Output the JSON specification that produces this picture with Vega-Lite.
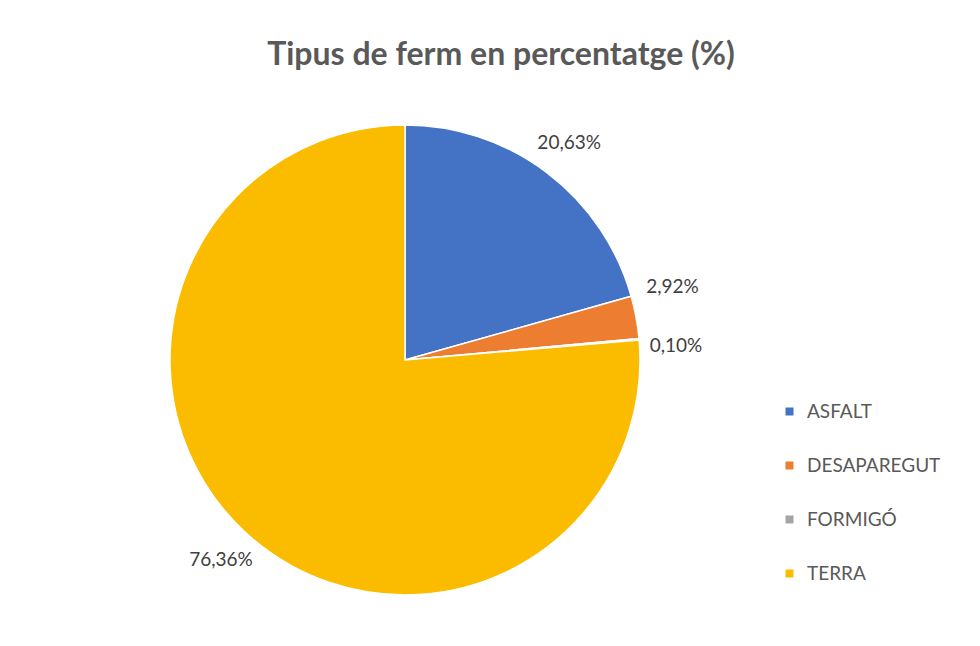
{
  "$schema": "https://vega.github.io/schema/vega-lite/v6.json",
  "width": 810,
  "height": 560,
  "autosize": "none",
  "padding": {"left": 0, "top": 80, "right": 170, "bottom": 6},
  "background": "white",
  "view": {"stroke": null},
  "title": {
    "text": "Tipus de ferm en percentatge (%)",
    "font": "Lato",
    "fontSize": 32,
    "fontWeight": "bold",
    "color": "#595959",
    "dx": 96,
    "offset": 8
  },
  "data": {
    "values": [
      {"tipus": "ASFALT", "pct": 20.63, "label": "20,63%"},
      {"tipus": "DESAPAREGUT", "pct": 2.92, "label": "2,92%"},
      {"tipus": "FORMIGÓ", "pct": 0.10, "label": "0,10%"},
      {"tipus": "TERRA", "pct": 76.36, "label": "76,36%"}
    ]
  },
  "encoding": {
    "theta": {"field": "pct", "type": "quantitative", "stack": true},
    "order": {"field": "tipus", "type": "nominal", "sort": "ascending"}
  },
  "layer": [
    {
      "mark": {"type": "arc", "outerRadius": 235, "stroke": "white", "strokeWidth": 1.5},
      "encoding": {
        "color": {
          "field": "tipus",
          "type": "nominal",
          "scale": {
            "domain": ["ASFALT", "DESAPAREGUT", "FORMIGÓ", "TERRA"],
            "range": ["#4472C4", "#ED7D31", "#A5A5A5", "#FBBC00"]
          },
          "legend": {
            "title": null,
            "orient": "none",
            "legendX": 780,
            "legendY": 322,
            "symbolType": "square",
            "symbolSize": 64,
            "symbolStrokeWidth": 0,
            "labelFont": "Lato",
            "labelFontSize": 19,
            "labelColor": "#595959",
            "labelOffset": 8,
            "rowPadding": 34
          }
        }
      }
    },
    {
      "mark": {
        "type": "text",
        "radius": 272,
        "font": "Lato",
        "fontSize": 19,
        "color": "#404040",
        "dy": {"expr": "datum.tipus === 'DESAPAREGUT' ? -24 : datum.tipus === 'FORMIGÓ' ? 10 : 0"}
      },
      "encoding": {
        "detail": {"field": "tipus", "type": "nominal"},
        "text": {"field": "label", "type": "nominal"}
      }
    }
  ]
}
